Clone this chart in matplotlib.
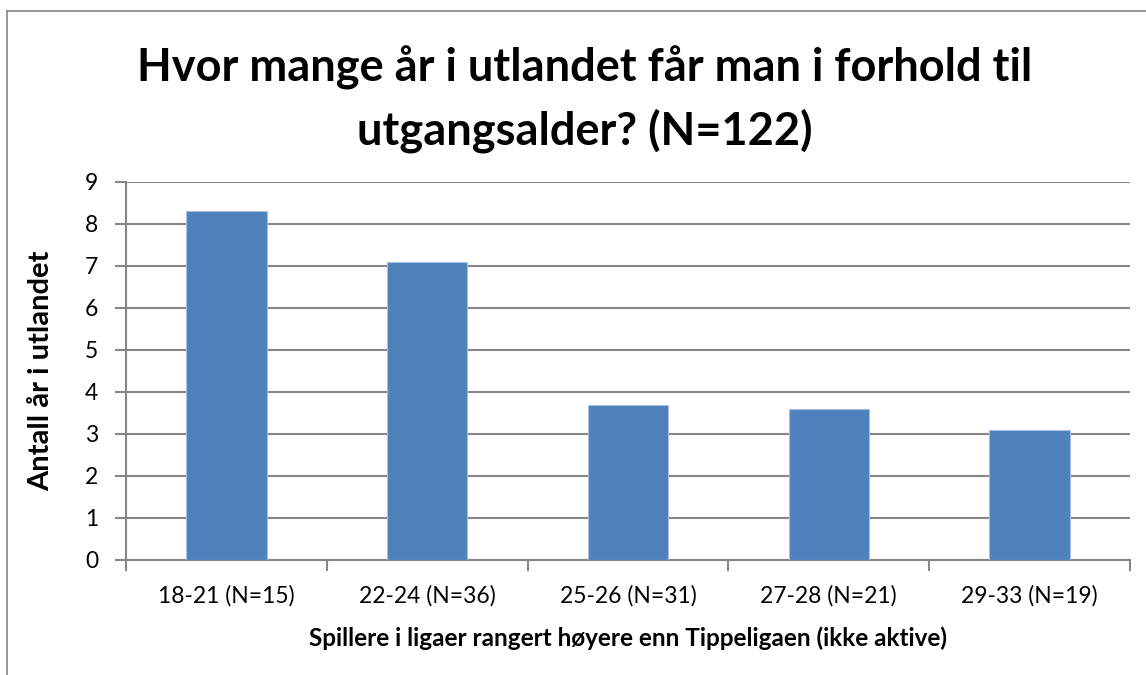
import numpy as np
import matplotlib.pyplot as plt
from matplotlib.lines import Line2D

categories = ["18-21 (N=15)", "22-24 (N=36)", "25-26 (N=31)", "27-28 (N=21)", "29-33 (N=19)"]
values = [8.3, 7.1, 3.7, 3.6, 3.1]
yticks = list(range(0, 10))

plt.rcParams['font.family'] = ['Lato', 'DejaVu Sans']

fig = plt.figure(figsize=(11.46, 6.75), dpi=100)
ax = fig.add_axes([126 / 1146, 1 - 560 / 675, (1130 - 126) / 1146, (560 - 182) / 675])

x = np.arange(len(categories))
ax.bar(x, values, width=0.4, color="#4F81BD", edgecolor="#A7C0DE", linewidth=0.8, zorder=3)

ax.set_xlim(-0.5, len(categories) - 0.5)
ax.set_ylim(0, 9)
ax.set_yticks(yticks)
ax.set_yticklabels([str(t) for t in yticks], fontsize=16.5)
ax.set_xticks(x)
ax.set_xticklabels(categories, fontsize=16.5)
ax.tick_params(axis='x', length=0, pad=18)
ax.tick_params(axis='y', length=8, color="#868686", width=1.5, pad=12)
ax.set_xticks(np.arange(-0.5, len(categories)), minor=True)
ax.tick_params(axis='x', which='minor', length=8, color="#868686", width=1.5)

ax.grid(axis='y', color="#868686", linewidth=1.5, zorder=0)
for s in ['top', 'right']:
    ax.spines[s].set_visible(False)
for s in ['left', 'bottom']:
    ax.spines[s].set_color("#868686")
    ax.spines[s].set_linewidth(1.5)

ax.set_ylabel("Antall år i utlandet", fontsize=21, fontweight='bold', labelpad=22)
ax.set_xlabel("Spillere i ligaer rangert høyere enn Tippeligaen (ikke aktive)",
              fontsize=17.5, fontweight='bold', labelpad=14)

fig.text(585 / 1146, 1 - 68 / 675, "Hvor mange år i utlandet får man i forhold til",
         fontsize=32.5, fontweight='bold', ha='center', va='center')
fig.text(585 / 1146, 1 - 131 / 675, "utgangsalder? (N=122)",
         fontsize=32.5, fontweight='bold', ha='center', va='center')

# chart border (left and top visible)
fig.add_artist(Line2D([7 / 1146, 7 / 1146], [0, 1 - 11 / 675], transform=fig.transFigure,
                      color="#868686", linewidth=1.2))
fig.add_artist(Line2D([7 / 1146, 1], [1 - 11 / 675, 1 - 11 / 675], transform=fig.transFigure,
                      color="#868686", linewidth=1.2))

fig.savefig("out.png", dpi=100)
